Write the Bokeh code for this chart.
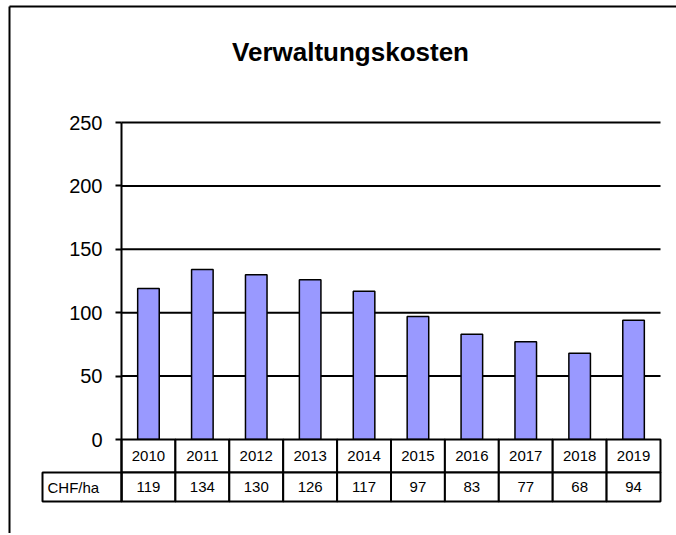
from bokeh.plotting import figure
from bokeh.models import Range1d, FixedTicker, ColumnDataSource, Label
from bokeh.core.properties import value
from bokeh.embed import file_html
from bokeh.resources import INLINE

# ---- data ----
years = ["2010", "2011", "2012", "2013", "2014", "2015", "2016", "2017", "2018", "2019"]
costs = [119, 134, 130, 126, 117, 97, 83, 77, 68, 94]
y_ticks = [0, 50, 100, 150, 200, 250]
grid_ticks = [50, 100, 150, 200, 250]
row_label = "CHF/ha"
title_text = "Verwaltungskosten"

# ---- layout constants (page pixels) ----
FONT = "Liberation Sans"
CANVAS_X0, CANVAS_Y0 = 0, 0
W, H = 676, 533
X0_PX = 121          # x = 0 (left edge of first category)
CAT_PX = 53.9        # pixels per category
Y0_PX = 439          # y = 0
PX_PER_UNIT = 1.268  # pixels per CHF
ROW1_PX = 33         # year row height
ROW2_PX = 29         # value row height
LABEL_COL_PX = 79    # width of the "CHF/ha" cell
BORDER_LEFT_PX = 9
BORDER_TOP_PX = 6

def px_to_x(px):
    return (px - X0_PX) / CAT_PX

def px_to_y(py):
    return (Y0_PX - py) / PX_PER_UNIT

x_range = Range1d(px_to_x(CANVAS_X0), px_to_x(CANVAS_X0 + W))
y_range = Range1d(px_to_y(CANVAS_Y0 + H), px_to_y(CANVAS_Y0))
row1 = ROW1_PX / PX_PER_UNIT
row2 = (ROW1_PX + ROW2_PX) / PX_PER_UNIT
label_w = LABEL_COL_PX / CAT_PX

n = len(years)
centers = [i + 0.5 for i in range(n)]
lefts = list(range(n))
rights = [i + 1 for i in range(n)]

p = figure(width=W, height=H, output_backend="svg", toolbar_location=None,
           x_range=x_range, y_range=y_range, x_axis_location=None,
           min_border_left=0, min_border_right=0, min_border_top=0, min_border_bottom=0)
p.outline_line_color = None
p.xgrid.visible = False
p.ygrid.visible = False

# outer chart-area border (left and top edges)
bx, by = px_to_x(BORDER_LEFT_PX), px_to_y(BORDER_TOP_PX)
p.segment(x0=[bx, bx], y0=[by, by], x1=[x_range.end, bx], y1=[by, y_range.start],
          line_color="black", line_width=2)

# y axis at the left edge of the category area
yax = p.yaxis[0]
yax.fixed_location = 0
yax.ticker = FixedTicker(ticks=y_ticks)
yax.bounds = (-row2, 250)
yax.axis_line_width = 2
yax.axis_line_color = "black"
yax.major_tick_out = 6
yax.major_tick_in = 0
yax.major_tick_line_width = 2
yax.major_tick_line_color = "black"
yax.minor_tick_line_color = None
yax.major_label_text_font = FONT
yax.major_label_text_font_size = "20px"
yax.major_label_text_color = "black"
yax.major_label_standoff = 13

# horizontal grid lines across the category area
p.segment(x0=0, x1=n, y0=grid_ticks, y1=grid_ticks, line_color="black", line_width=2)

# bars
bar_src = ColumnDataSource(dict(x=centers, top=costs))
p.vbar(x="x", top="top", bottom=0, width=0.4, source=bar_src,
       fill_color="#9999FF", line_color="black", line_width=1.5)

# data table under the chart
p.quad(left=lefts, right=rights, top=0, bottom=-row1,
       fill_color="white", line_color="black", line_width=2)
p.quad(left=lefts, right=rights, top=-row1, bottom=-row2,
       fill_color="white", line_color="black", line_width=2)
p.quad(left=[-label_w], right=[0], top=[-row1], bottom=[-row2],
       fill_color="white", line_color="black", line_width=2)

p.text(x=centers, y=[-row1 / 2] * n, text=years, text_align="center",
       text_baseline="middle", text_font=value(FONT), text_font_size="15px",
       text_color="black")
p.text(x=centers, y=[-(row1 + row2) / 2] * n, text=[str(v) for v in costs],
       text_align="center", text_baseline="middle", text_font=value(FONT),
       text_font_size="15px", text_color="black")
p.text(x=[-label_w + 5 / CAT_PX], y=[-(row1 + row2) / 2], text=[row_label],
       text_align="left", text_baseline="middle", text_font=value(FONT),
       text_font_size="15px", text_color="black")

# chart title
p.add_layout(Label(x=px_to_x(350), y=px_to_y(51), text=title_text,
                   text_align="center", text_baseline="alphabetic",
                   text_font=FONT, text_font_size="26px", text_font_style="bold",
                   text_color="black"))

open("out.html", "w").write(file_html(p, INLINE))
